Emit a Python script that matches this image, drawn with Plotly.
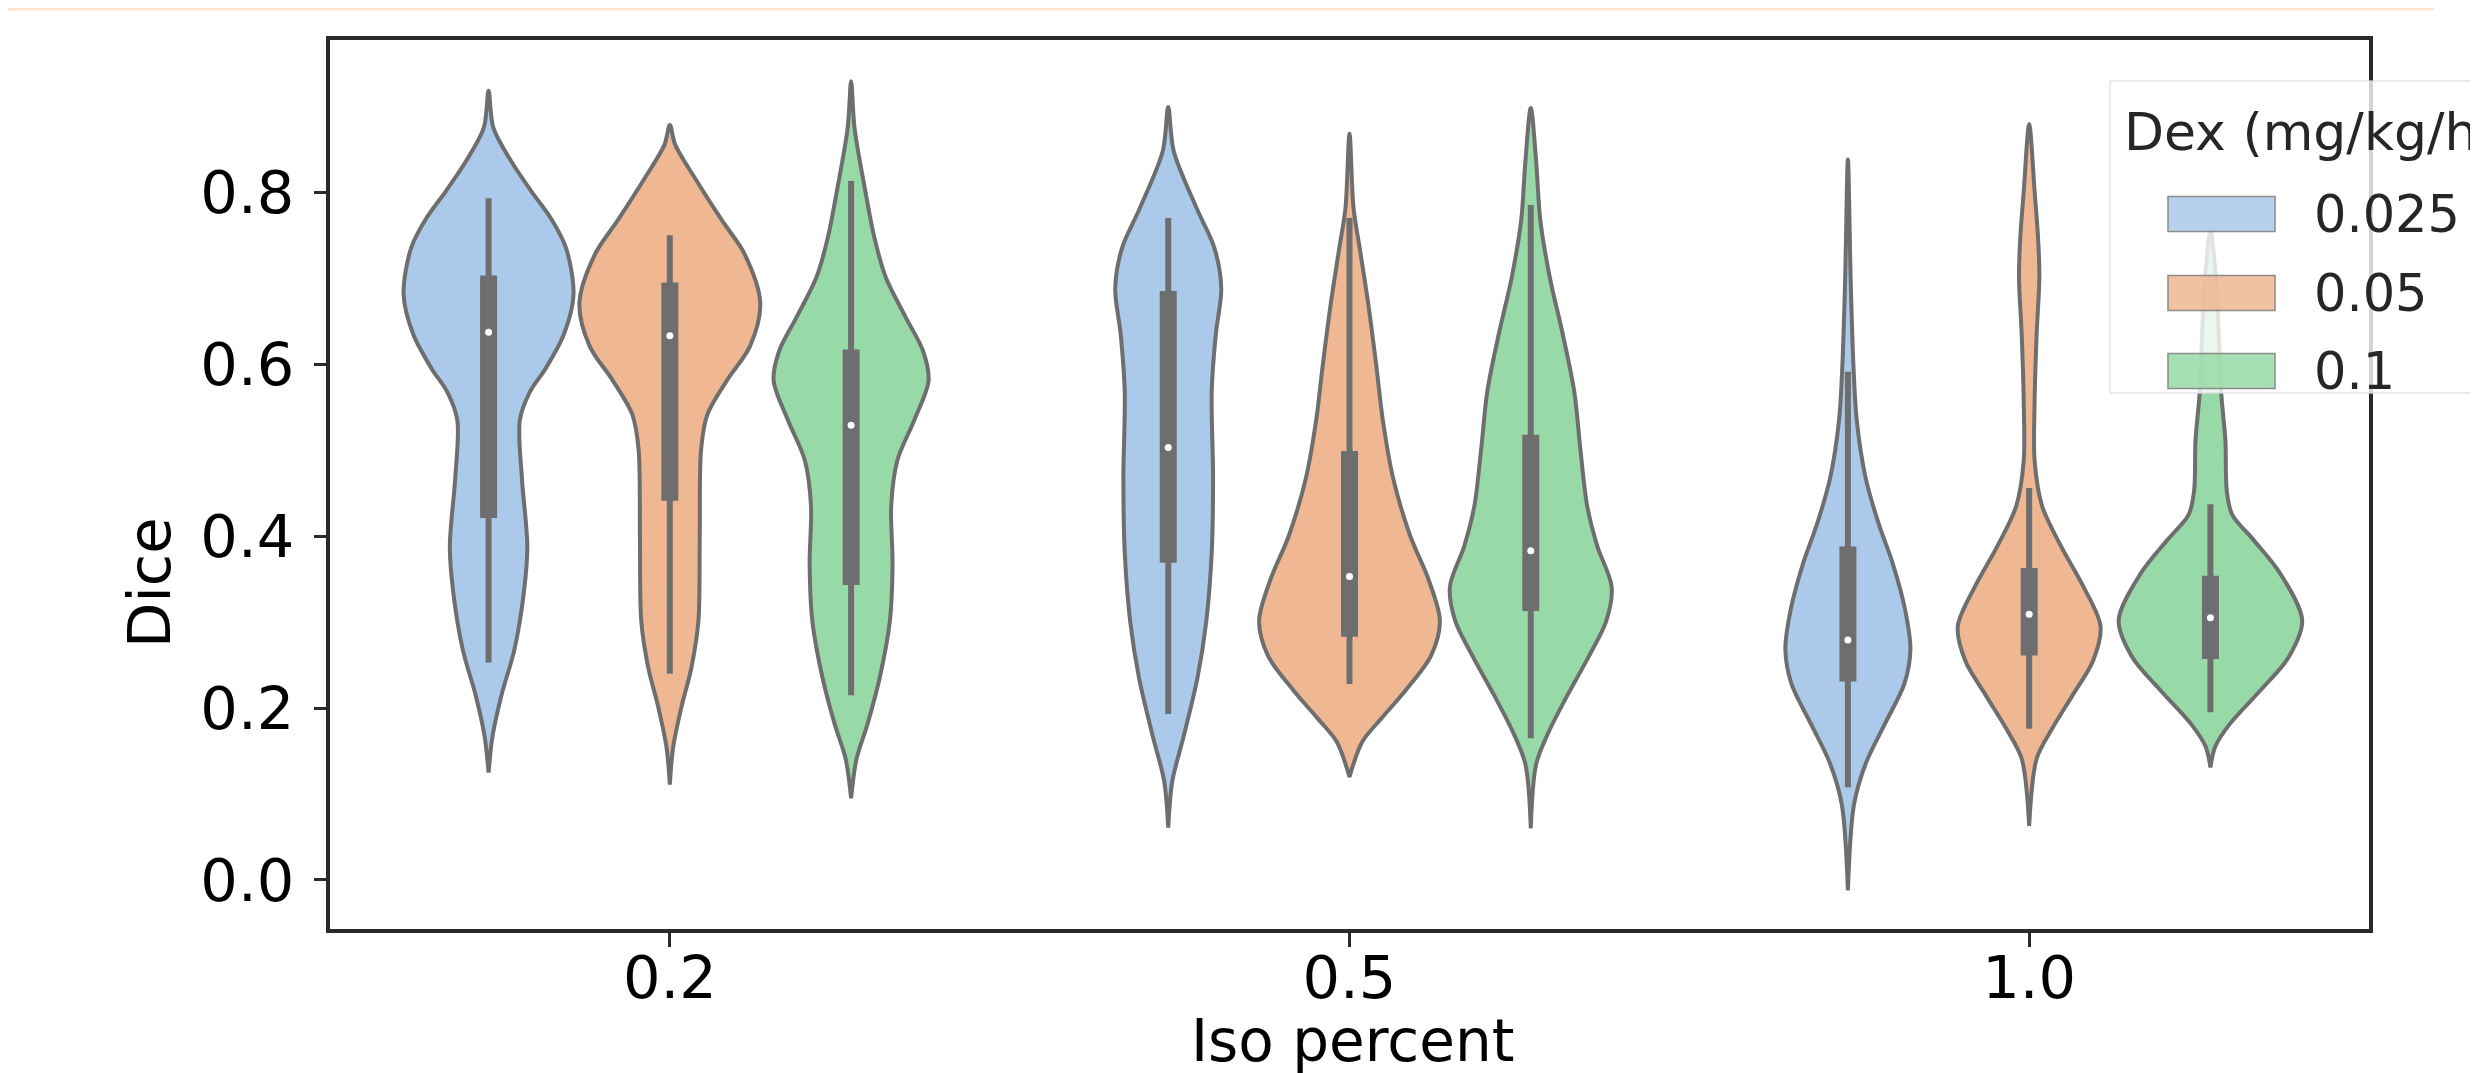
import plotly.graph_objects as go

# ---------------- data ----------------
groups = ["0.2", "0.5", "1.0"]            # Iso percent
hues = ["0.025", "0.05", "0.1"]           # Dex (mg/kg/h)
hue_colors = ["#aac9eb", "#efb792", "#98daa7"]

# violin outlines: Dice value (y) and half-width in x-axis units (w)
v02_025_y = [0.918, 0.875, 0.835, 0.801, 0.768, 0.735, 0.681, 0.635, 0.595, 0.568, 0.535, 0.468, 0.388, 0.335, 0.268, 0.215, 0.168, 0.125]
v02_025_w = [0.0, 0.007, 0.034, 0.063, 0.093, 0.114, 0.125, 0.111, 0.084, 0.061, 0.046, 0.049, 0.057, 0.052, 0.038, 0.019, 0.006, 0.0]
v02_05_y = [0.878, 0.855, 0.815, 0.768, 0.728, 0.671, 0.621, 0.581, 0.541, 0.501, 0.401, 0.301, 0.248, 0.201, 0.155, 0.111]
v02_05_w = [0.0, 0.008, 0.038, 0.076, 0.110, 0.133, 0.118, 0.084, 0.055, 0.046, 0.044, 0.042, 0.032, 0.017, 0.005, 0.0]
v02_1_y = [0.929, 0.875, 0.801, 0.748, 0.701, 0.655, 0.615, 0.581, 0.535, 0.488, 0.435, 0.368, 0.301, 0.235, 0.181, 0.141, 0.095]
v02_1_w = [0.0, 0.005, 0.021, 0.034, 0.051, 0.080, 0.106, 0.114, 0.093, 0.068, 0.059, 0.061, 0.057, 0.042, 0.024, 0.008, 0.0]

v05_025_y = [0.899, 0.848, 0.781, 0.735, 0.688, 0.635, 0.568, 0.468, 0.381, 0.301, 0.235, 0.168, 0.115, 0.061]
v05_025_w = [0.0, 0.008, 0.042, 0.068, 0.078, 0.070, 0.064, 0.066, 0.064, 0.056, 0.043, 0.023, 0.006, 0.0]
v05_05_y = [0.868, 0.781, 0.735, 0.668, 0.601, 0.535, 0.468, 0.401, 0.348, 0.301, 0.261, 0.221, 0.188, 0.161, 0.120]
v05_05_w = [0.0, 0.006, 0.015, 0.028, 0.039, 0.049, 0.064, 0.089, 0.117, 0.133, 0.120, 0.083, 0.047, 0.019, 0.0]
v05_1_y = [0.898, 0.835, 0.768, 0.701, 0.635, 0.568, 0.501, 0.435, 0.388, 0.341, 0.301, 0.261, 0.215, 0.175, 0.135, 0.060]
v05_1_w = [0.0, 0.008, 0.014, 0.028, 0.047, 0.064, 0.073, 0.083, 0.098, 0.119, 0.111, 0.086, 0.054, 0.028, 0.008, 0.0]

v10_025_y = [0.838, 0.701, 0.601, 0.535, 0.468, 0.415, 0.368, 0.315, 0.268, 0.228, 0.181, 0.135, 0.088, -0.012]
v10_025_w = [0.0, 0.004, 0.008, 0.013, 0.026, 0.045, 0.066, 0.084, 0.092, 0.083, 0.054, 0.026, 0.009, 0.0]
v10_05_y = [0.879, 0.801, 0.748, 0.701, 0.635, 0.555, 0.488, 0.435, 0.388, 0.341, 0.295, 0.255, 0.215, 0.175, 0.141, 0.063]
v10_05_w = [0.0, 0.008, 0.013, 0.015, 0.011, 0.008, 0.008, 0.019, 0.047, 0.080, 0.105, 0.094, 0.064, 0.033, 0.011, 0.0]
v10_1_y = [0.755, 0.700, 0.620, 0.565, 0.511, 0.453, 0.425, 0.395, 0.356, 0.302, 0.259, 0.221, 0.181, 0.155, 0.131]
v10_1_w = [0.0, 0.008, 0.013, 0.016, 0.022, 0.024, 0.032, 0.064, 0.103, 0.135, 0.115, 0.074, 0.028, 0.007, 0.0]

violin_y = [[v02_025_y, v02_05_y, v02_1_y], [v05_025_y, v05_05_y, v05_1_y], [v10_025_y, v10_05_y, v10_1_y]]
violin_w = [[v02_025_w, v02_05_w, v02_1_w], [v05_025_w, v05_05_w, v05_1_w], [v10_025_w, v10_05_w, v10_1_w]]

# inner box statistics, [group][hue]
whisker_hi = [[0.793, 0.750, 0.813], [0.770, 0.770, 0.785], [0.591, 0.456, 0.437]]
q3 = [[0.703, 0.695, 0.617], [0.685, 0.499, 0.518], [0.388, 0.363, 0.354]]
median = [[0.637, 0.633, 0.529], [0.503, 0.353, 0.383], [0.279, 0.309, 0.305]]
q1 = [[0.421, 0.441, 0.343], [0.369, 0.283, 0.313], [0.231, 0.261, 0.257]]
whisker_lo = [[0.253, 0.240, 0.215], [0.193, 0.228, 0.165], [0.108, 0.176, 0.195]]

y_ticks = [0.0, 0.2, 0.4, 0.6, 0.8]
legend_title = "Dex (mg/kg/h"   # as visible in the (cropped) reference

# ---------------- layout constants ----------------
W, H = 2478, 1073
L, R, T, B = 322, 2361, 32, 921
FONT = "DejaVu Sans"
GRAY = "#6e6e6e"
AX = "#2b2b2b"
hue_offsets = [-0.2667, 0.0, 0.2667]


def px(xp):
    return (xp - L) / (R - L)


def py(yp):
    return (B - yp) / (B - T)


fig = go.Figure()

for gi, g in enumerate(groups):
    for hi, h in enumerate(hues):
        c = gi + hue_offsets[hi]
        ys = violin_y[gi][hi]
        ws = violin_w[gi][hi]
        xs = [c + w for w in ws] + [c - w for w in reversed(ws)]
        yy = list(ys) + list(reversed(ys))
        fig.add_trace(go.Scatter(
            x=xs, y=yy, mode="lines", fill="toself", fillcolor=hue_colors[hi],
            line=dict(color=GRAY, width=4, shape="spline", smoothing=0.9),
            hoverinfo="skip", showlegend=False))
        # whisker
        fig.add_trace(go.Scatter(
            x=[c, c], y=[whisker_lo[gi][hi], whisker_hi[gi][hi]], mode="lines",
            line=dict(color=GRAY, width=6), hoverinfo="skip", showlegend=False))
        # IQR bar
        fig.add_trace(go.Scatter(
            x=[c, c], y=[q1[gi][hi], q3[gi][hi]], mode="lines",
            line=dict(color=GRAY, width=17), hoverinfo="skip", showlegend=False))
        # median
        fig.add_trace(go.Scatter(
            x=[c], y=[median[gi][hi]], mode="markers",
            marker=dict(color="white", size=7, line=dict(width=0)),
            hoverinfo="skip", showlegend=False))

fig.update_layout(
    width=W, height=H,
    margin=dict(l=L, r=W - R, t=T, b=H - B, autoexpand=False),
    paper_bgcolor="white", plot_bgcolor="white",
    showlegend=False,
    font=dict(family=FONT, size=59, color="black"),
    xaxis=dict(range=[-0.5, 2.5], tickmode="array", tickvals=[0, 1, 2], ticktext=groups,
               showgrid=False, zeroline=False, showline=True, mirror=True,
               linecolor=AX, linewidth=4, ticks="outside", ticklen=14, tickwidth=3,
               tickcolor=AX, ticklabelstandoff=-20,
               tickfont=dict(family=FONT, size=59, color="black")),
    yaxis=dict(range=[-0.057, 0.977], tickmode="array", tickvals=y_ticks,
               ticktext=[f"{v:.1f}" for v in y_ticks],
               showgrid=False, zeroline=False, showline=True, mirror=True,
               linecolor=AX, linewidth=4, ticks="outside", ticklen=12, tickwidth=3,
               tickcolor=AX, ticklabelstandoff=8,
               tickfont=dict(family=FONT, size=59, color="black")),
)

# axis titles
fig.add_annotation(text="Iso percent", xref="paper", yref="paper", x=px(1344), y=py(1069),
                   xanchor="center", yanchor="bottom", showarrow=False,
                   font=dict(family=FONT, size=58, color="black"))
fig.add_annotation(text="Dice", xref="paper", yref="paper", x=px(141), y=py(575),
                   xanchor="center", yanchor="middle", showarrow=False, textangle=-90,
                   font=dict(family=FONT, size=59, color="black"))

# legend (semi-transparent box, partially cut by the image edge)
fig.add_shape(type="rect", xref="paper", yref="paper", x0=px(2102), x1=px(2500),
              y0=py(385), y1=py(73), fillcolor="rgba(255,255,255,0.8)",
              line=dict(color="rgba(220,220,220,0.8)", width=1.5), layer="above")
fig.add_annotation(text=legend_title, xref="paper", yref="paper", x=px(2114), y=py(124),
                   xanchor="left", yanchor="middle", showarrow=False,
                   font=dict(family=FONT, size=52, color="#262626"))
legend_rows = [206, 285, 363]
for hi, h in enumerate(hues):
    yc = legend_rows[hi]
    fig.add_shape(type="rect", xref="paper", yref="paper", x0=px(2160), x1=px(2267),
                  y0=py(yc + 17.5), y1=py(yc - 17.5), fillcolor=hue_colors[hi],
                  opacity=0.85, line=dict(color="#7a7a7a", width=1.5), layer="above")
    fig.add_annotation(text=h, xref="paper", yref="paper", x=px(2304), y=py(yc),
                       xanchor="left", yanchor="middle", showarrow=False,
                       font=dict(family=FONT, size=51, color="#262626"))

# thin peach line along the very top of the image
fig.add_shape(type="line", xref="paper", yref="paper", x0=px(0), x1=px(2426),
              y0=py(1), y1=py(1), line=dict(color="#fde2d2", width=3), layer="above")

fig.write_html("out.html")
